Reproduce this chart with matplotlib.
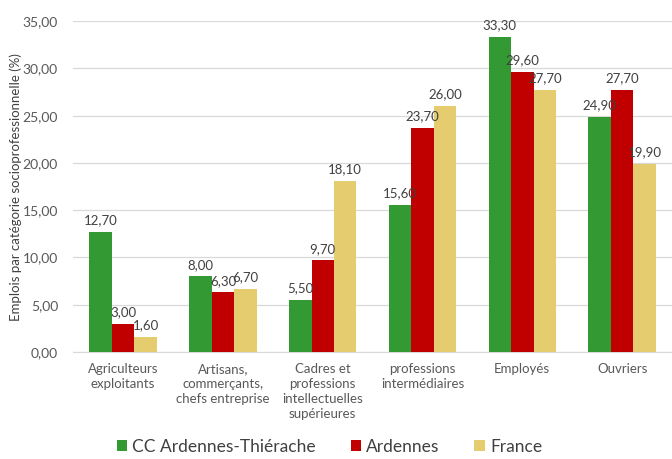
import numpy as np
import matplotlib
matplotlib.use("Agg")
import matplotlib.pyplot as plt

plt.rcParams['font.family'] = ['Lato', 'DejaVu Sans']

categories = ["Agriculteurs\nexploitants", "Artisans,\ncommerçants,\nchefs entreprise",
              "Cadres et\nprofessions\nintellectuelles\nsupérieures",
              "professions\nintermédiaires", "Employés", "Ouvriers"]
cc = [12.70, 8.00, 5.50, 15.60, 33.30, 24.90]
ardennes = [3.00, 6.30, 9.70, 23.70, 29.60, 27.70]
france = [1.60, 6.70, 18.10, 26.00, 27.70, 19.90]
series_names = ["CC Ardennes-Thiérache", "Ardennes", "France"]
colors = ["#339933", "#c00000", "#e5cd6f"]

fig = plt.figure(figsize=(6.72, 4.59), dpi=100)
ax = fig.add_axes([0.109, 0.233, 0.891, 0.721])

x = np.arange(len(categories))
w = 0.225
for i, (vals, name, col) in enumerate(zip([cc, ardennes, france], series_names, colors)):
    pos = x + (i - 1) * w
    ax.bar(pos, vals, w, color=col, label=name, zorder=3)
    for p, v in zip(pos, vals):
        ax.text(p, v + 0.6, f"{v:.2f}".replace(".", ","), ha="center", va="bottom",
                fontsize=9.5, color="#404040", zorder=4)

ax.set_xlim(-0.5, len(categories) - 0.5)
ax.set_ylim(0, 35)
yt = np.arange(0, 36, 5)
ax.set_yticks(yt)
ax.set_yticklabels([f"{v:.2f}".replace(".", ",") for v in yt], fontsize=10, color="#595959")
ax.set_xticks(x)
ax.set_xticklabels(categories, fontsize=9.5, color="#595959", linespacing=1.3)
ax.tick_params(length=0, pad=8)
ax.tick_params(axis="y", pad=11)
ax.grid(axis="y", color="#d9d9d9", linewidth=0.9, zorder=0)
for s in ["top", "right", "left"]:
    ax.spines[s].set_visible(False)
ax.spines["bottom"].set_color("#d9d9d9")
ax.set_ylabel("Emplois par catégorie socioprofessionnelle (%)", fontsize=9.5, color="#404040")
ax.yaxis.set_label_coords(-0.086, 0.5)

fig.legend(loc="lower center", bbox_to_anchor=(0.49, -0.025), ncol=3, frameon=False,
           fontsize=12.5, handlelength=0.6, handleheight=0.6, handletextpad=0.3,
           columnspacing=2.0, labelcolor="#404040")

fig.savefig("out.png", dpi=100)
